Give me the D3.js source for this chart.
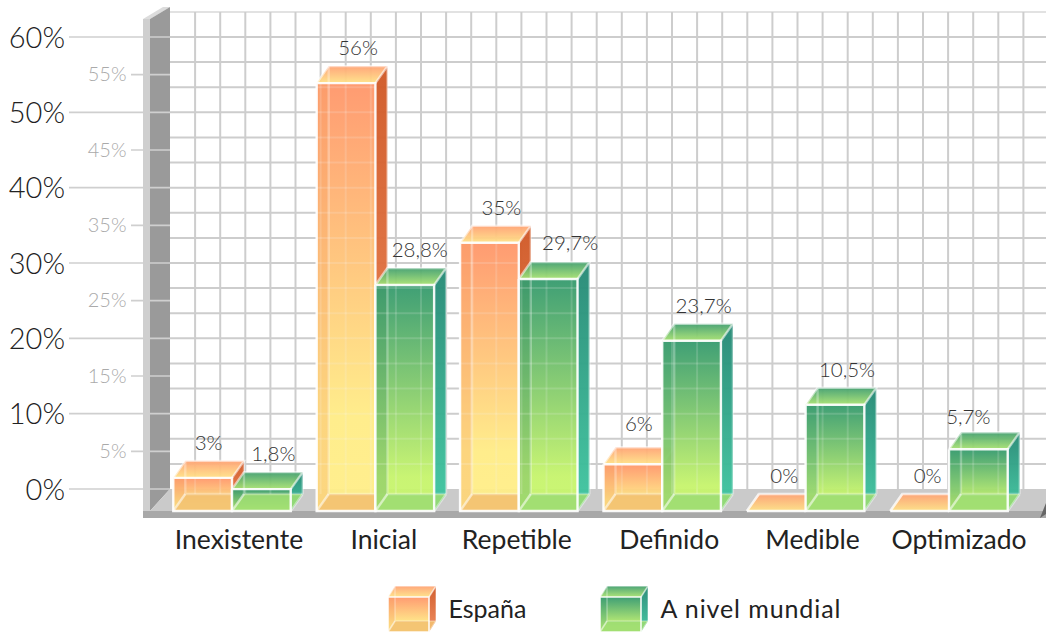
<!DOCTYPE html>
<html><head><meta charset="utf-8">
<script src="https://cdn.jsdelivr.net/npm/d3@7/dist/d3.min.js"></script>
<style>html,body{margin:0;padding:0;background:#fff;overflow:hidden}svg{display:block}text{font-family:Lato,"Open Sans",sans-serif}</style>
</head><body><svg id="c" width="1046" height="632"></svg>
<script>
const categories = ["Inexistente","Inicial","Repetible","Definido","Medible","Optimizado"];
const seriesNames = ["España","A nivel mundial"];
// Values printed above the bars
const espanaValues = [3,56,35,6,0,0];
const mundialValues = [1.8,28.8,29.7,23.7,10.5,5.7];
// Bar heights as drawn in the picture, read against the axis (they differ from the printed values)
const espanaBarHeights = [4.4,56.8,35.6,6.2,0,0];
const mundialBarHeights = [2.9,30.0,30.8,22.6,14.1,8.2];
const majorTicks = [0,10,20,30,40,50,60];
const minorTicks = [5,15,25,35,45,55];

const W=1046, D={x:12,y:17}, wall={x:27,y:22};
const svg=d3.select("#c");
const defs=svg.append("defs");
function grad(id,stops){
  const g=defs.append("linearGradient").attr("id",id).attr("x1",0).attr("y1",0).attr("x2",0).attr("y2",1);
  stops.forEach(([o,c])=>g.append("stop").attr("offset",o).attr("stop-color",c));
}
const pal=[
 {front:[[0,"#ff966a"],[.78,"#ffec86"],[1,"#ffee88"]],side:[[0,"#d05a28"],[1,"#f08a5c"]],top:[[0,"#ffa274"],[1,"#ffe287"]],floor:"#f3bf70",left:"#f5a060"},
 {front:[[0,"#359a6e"],[.85,"#c6f46c"],[1,"#c9f66e"]],side:[[0,"#288a76"],[1,"#42c8a2"]],top:[[0,"#44a070"],[1,"#a8e272"]],floor:"#9cdc72",left:"#3f9f70"}
];
pal.forEach((p,i)=>{grad("f"+i,p.front);grad("s"+i,p.side);grad("t"+i,p.top);});

const y=d3.scaleLinear().domain([0,60]).range([511,59]);   // front plane
const yBack=v=>y(v)-wall.y;
const x0=d3.scaleBand().domain(categories).range([160.3,1020.7]).paddingInner(0.181).paddingOuter(0.0905);
const x1=d3.scaleBand().domain(seriesNames).range([0,x0.bandwidth()]);
const poly=p=>p.map(a=>a.join(",")).join(" ");

// left wall, floor
const gridLeft=170, gridBottom=yBack(0), gridTop=yBack(63.33);
svg.append("polygon").attr("points",poly([[143,518],[143,19],[150,19],[150,518]])).attr("fill","#cfcfcf");
svg.append("polygon").attr("points",poly([[143,19],[150,19],[170,7],[163,7]])).attr("fill","#dcdcdc");
svg.append("polygon").attr("points",poly([[150,511],[150,19],[170,7],[170,489]])).attr("fill","#9a9a9a");
svg.append("polygon").attr("points",poly([[150,511],[170,489],[W,489],[W,511]])).attr("fill","#cacaca");
svg.append("rect").attr("x",143).attr("y",511).attr("width",W-143).attr("height",7).attr("fill","#a8a8a8");
svg.append("polygon").attr("points",poly([[1040,518],[1046,503],[1046,514]])).attr("fill","#666");

// grid
const gridH=d3.range(1,19).map(i=>i*10/3);
svg.append("g").selectAll("line").data(gridH).join("line")
 .attr("x1",gridLeft).attr("x2",W).attr("y1",d=>yBack(d)).attr("y2",d=>yBack(d)).attr("stroke","#cdcdcd").attr("stroke-width",2);
svg.append("line").attr("x1",gridLeft).attr("x2",W).attr("y1",gridTop).attr("y2",gridTop).attr("stroke","#e2e2e2").attr("stroke-width",2);
const gx=d3.scaleLinear().domain([0,35]).range([gridLeft,gridLeft+35*25.1]);
svg.append("g").selectAll("line").data(d3.range(1,36)).join("line")
 .attr("x1",d=>gx(d)).attr("x2",d=>gx(d)).attr("y1",gridTop).attr("y2",gridBottom).attr("stroke","#cdcdcd").attr("stroke-width",2);

// y ticks
svg.append("g").selectAll("line").data(majorTicks).join("line")
 .attr("x1",69).attr("x2",170).attr("y1",d=>yBack(d)).attr("y2",d=>yBack(d)).attr("stroke","#cfcfcf").attr("stroke-width",1.6);
svg.append("g").selectAll("line").data(minorTicks).join("line")
 .attr("x1",131).attr("x2",170).attr("y1",d=>yBack(d)).attr("y2",d=>yBack(d)).attr("stroke","#cfcfcf").attr("stroke-width",1.6);
svg.append("g").selectAll("text").data(majorTicks).join("text")
 .attr("x",65).attr("y",d=>yBack(d)+10.5).attr("text-anchor","end").attr("font-size",29).attr("font-weight",300).attr("fill","#222")
 .text(d=>d+"%");
svg.append("g").selectAll("text").data(minorTicks).join("text")
 .attr("x",126.5).attr("y",d=>yBack(d)+6.5).attr("text-anchor","end").attr("font-size",20).attr("font-weight",300).attr("fill","#aaa")
 .text(d=>d+"%");

// a translucent cube
function cube(g,px,pw,pTop,pBot,dx,dy,i,sw,showGrid){
  const p=pal[i];
  g.append("polygon").attr("points",poly([[px+pw,pTop],[px+pw+dx,pTop-dy],[px+pw+dx,pBot-dy],[px+pw,pBot]])).attr("fill",`url(#s${i})`).attr("opacity",.97);
  if(pBot-pTop>0.5) g.append("rect").attr("x",px).attr("y",pTop).attr("width",pw).attr("height",pBot-pTop).attr("fill",`url(#f${i})`).attr("opacity",.95);
  if(pBot-pTop>0.5){
    g.append("polygon").attr("points",poly([[px,pTop],[px+dx,pTop],[px+dx,pBot-dy],[px,pBot]])).attr("fill",p.left).attr("opacity",.3);
    g.append("polygon").attr("points",poly([[px,pBot],[px+dx,pBot-dy],[px+pw+dx,pBot-dy],[px+pw,pBot]])).attr("fill",p.floor).attr("opacity",.88);
  }
  g.append("polygon").attr("points",poly([[px,pTop],[px+dx,pTop-dy],[px+pw+dx,pTop-dy],[px+pw,pTop]])).attr("fill",`url(#t${i})`).attr("opacity",.95);
  if(showGrid && pBot-pTop>0.5){
    const bottom=pBot-dy;
    g.append("g").selectAll("line").data(d3.range(1,36).filter(k=>gx(k)>px+2&&gx(k)<px+pw-2)).join("line")
      .attr("x1",k=>gx(k)).attr("x2",k=>gx(k)).attr("y1",pTop).attr("y2",bottom).attr("stroke","#fff").attr("stroke-opacity",.17).attr("stroke-width",2);
    g.append("g").selectAll("line").data(gridH.filter(v=>yBack(v)>pTop+2&&yBack(v)<bottom)).join("line")
      .attr("x1",px).attr("x2",px+pw).attr("y1",v=>yBack(v)).attr("y2",v=>yBack(v)).attr("stroke","#fff").attr("stroke-opacity",.17).attr("stroke-width",2);
  }
  const edge=(pts,o)=>g.append("polyline").attr("points",poly(pts)).attr("fill","none").attr("stroke","#fff").attr("stroke-width",sw).attr("stroke-opacity",o);
  edge([[px+dx,pTop-dy],[px+dx,pBot-dy],[px+pw+dx,pBot-dy]],.3);
  edge([[px,pBot],[px+dx,pBot-dy]],.55);
  edge([[px+pw+dx,pBot-dy],[px+pw,pBot]],.4);
  edge([[px,pTop],[px+dx,pTop-dy],[px+pw+dx,pTop-dy],[px+pw,pTop]],.55);
  edge([[px+pw+dx,pTop-dy],[px+pw+dx,pBot-dy]],.35);
  edge([[px,pTop],[px+pw,pTop],[px+pw,pBot],[px,pBot],[px,pTop]],.92);
}

const rows=[[espanaBarHeights,espanaValues],[mundialBarHeights,mundialValues]];
const labelNudge={"3%":[-6,0],"6%":[-6,-5],"0%":[-4,0],"28,8%":[3,0],"29,7%":[10,-1],"5,7%":[-22,3]};
const fmt=v=>String(v).replace(".",",")+"%";
const bars=svg.append("g");
categories.forEach((c,ci)=>seriesNames.forEach((s,si)=>{
  cube(bars,x0(c)+x1(s),x1.bandwidth(),y(rows[si][0][ci]),y(0),D.x,D.y,si,2.4,true);
}));
// value labels
categories.forEach((c,ci)=>seriesNames.forEach((s,si)=>{
  const t=fmt(rows[si][1][ci]), n=labelNudge[t]||[0,0];
  svg.append("text").attr("x",x0(c)+x1(s)+x1.bandwidth()/2+12+n[0])
    .attr("y",y(rows[si][0][ci])-D.y-11+n[1]).attr("text-anchor","middle").attr("font-size",20.5).attr("font-weight",300).attr("fill","#333").text(t);
}));
// category labels
const catNudge={"Inicial":1.5,"Repetible":-9,"Optimizado":3};
svg.append("g").selectAll("text").data(categories).join("text")
 .attr("x",d=>x0(d)+x0.bandwidth()/2+7+(catNudge[d]||0)).attr("y",549).attr("text-anchor","middle").attr("font-size",26.5).attr("fill","#222").text(d=>d);

// legend
const legendX=d3.scaleOrdinal().domain(seriesNames).range([388,600]);
seriesNames.forEach((s,i)=>{
  const lx=legendX(s);
  cube(svg.append("g"),lx,41,597,632,7,11,i,1.6,false);
  svg.append("text").attr("x",lx+60.5).attr("y",618).attr("font-size",25).attr("letter-spacing",i?0.9:0).attr("fill","#222").text(s);
});
</script></body></html>
